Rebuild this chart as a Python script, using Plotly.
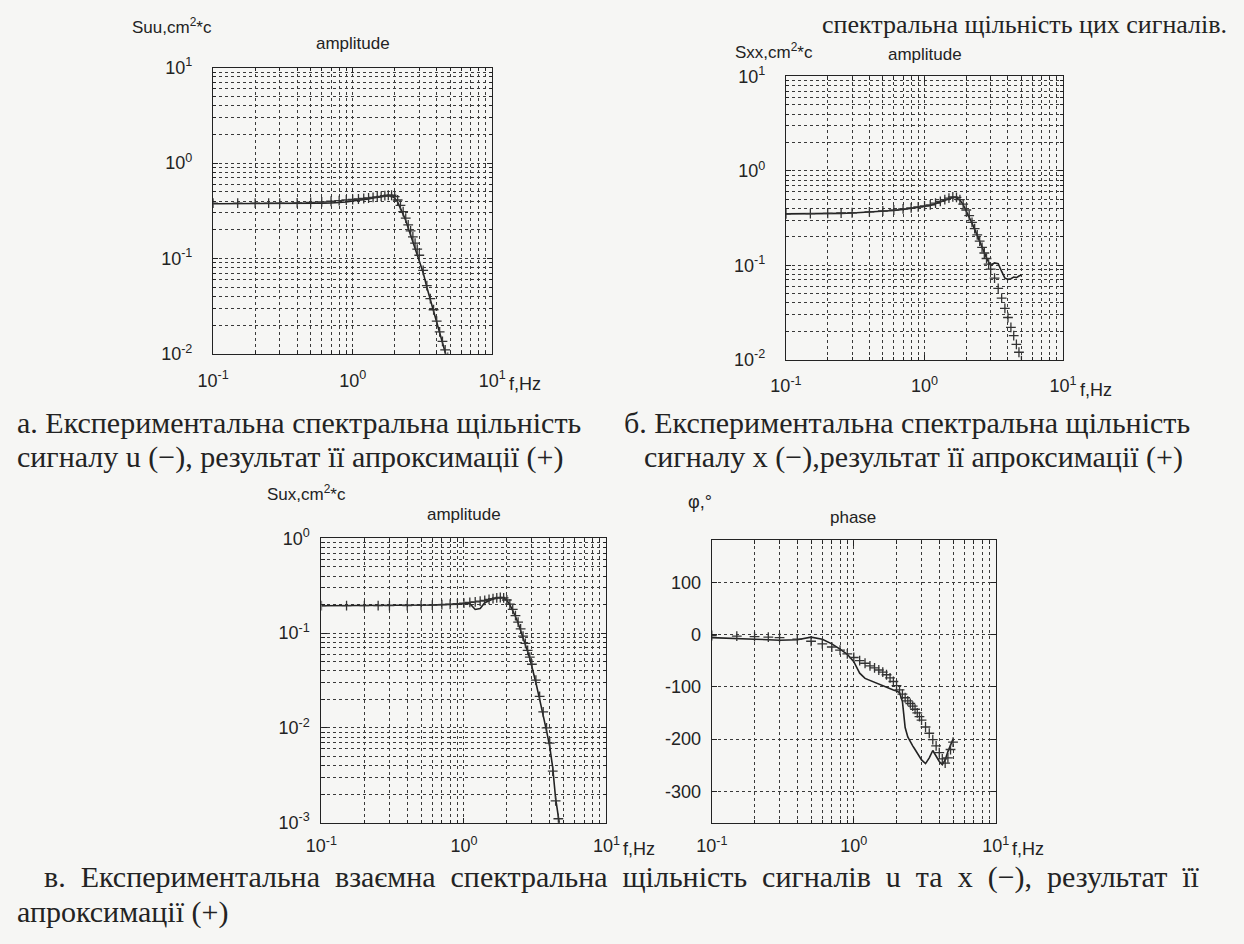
import plotly.graph_objects as go

W, H = 1244, 944

# ---------------- data ----------------
freq = [0.1, 0.15, 0.2, 0.25, 0.3, 0.4, 0.5, 0.6, 0.7, 0.8, 0.9, 1.0,
        1.1, 1.2, 1.3, 1.4, 1.5, 1.6, 1.7, 1.8, 1.9, 2.0,
        2.1, 2.2, 2.3, 2.4, 2.5, 2.6, 2.7, 2.8, 2.9, 3.0,
        3.2, 3.4, 3.6, 3.8, 4.0, 4.2, 4.4, 4.6, 4.8, 5.0]

# a. Suu
suu_exp = [0.375, 0.375, 0.375, 0.376, 0.376, 0.377, 0.378, 0.380, 0.382, 0.385, 0.390, 0.400,
           0.405, 0.410, 0.420, 0.430, 0.435, 0.440, 0.450, 0.455, 0.450, 0.430,
           0.390, 0.340, 0.290, 0.250, 0.210, 0.180, 0.155, 0.130, 0.112, 0.097,
           0.071, 0.050, 0.037, 0.028, 0.021, 0.016, 0.0128, 0.0104, 0.0087, 0.0074]
suu_fit = [0.380, 0.380, 0.380, 0.380, 0.381, 0.383, 0.387, 0.392, 0.398, 0.404, 0.410, 0.415,
           0.420, 0.425, 0.430, 0.436, 0.442, 0.448, 0.455, 0.460, 0.460, 0.445,
           0.410, 0.360, 0.310, 0.265, 0.225, 0.195, 0.168, 0.145, 0.125, 0.108,
           0.075, 0.052, 0.038, 0.029, 0.022, 0.017, 0.0135, 0.011, 0.0092, 0.0078]

# b. Sxx
sxx_exp = [0.350, 0.350, 0.352, 0.355, 0.358, 0.365, 0.372, 0.380, 0.390, 0.400, 0.410, 0.420,
           0.430, 0.450, 0.470, 0.490, 0.510, 0.525, 0.520, 0.490, 0.440, 0.380,
           0.330, 0.280, 0.240, 0.205, 0.178, 0.155, 0.135, 0.120, 0.108, 0.100,
           0.106, 0.104, 0.086, 0.073, 0.071, 0.072, 0.075, 0.074, 0.077, 0.079]
sxx_fit = [0.350, 0.352, 0.355, 0.358, 0.360, 0.368, 0.376, 0.385, 0.395, 0.405, 0.415, 0.425,
           0.437, 0.455, 0.475, 0.495, 0.515, 0.530, 0.525, 0.495, 0.445, 0.385,
           0.335, 0.285, 0.245, 0.210, 0.180, 0.155, 0.135, 0.118, 0.103, 0.091,
           0.073, 0.057, 0.045, 0.035, 0.028, 0.022, 0.018, 0.0145, 0.012, 0.0098]

# c. Sux
sux_exp = [0.195, 0.195, 0.195, 0.195, 0.195, 0.196, 0.197, 0.198, 0.200, 0.200, 0.202, 0.205,
           0.205, 0.178, 0.182, 0.210, 0.222, 0.230, 0.235, 0.238, 0.236, 0.222,
           0.200, 0.175, 0.150, 0.128, 0.108, 0.090, 0.076, 0.064, 0.054, 0.045,
           0.030, 0.020, 0.0138, 0.0093, 0.0064, 0.0038, 0.0018, 0.0012, 0.0008, 0.0005]
sux_fit = [0.195, 0.195, 0.195, 0.195, 0.195, 0.196, 0.197, 0.198, 0.200, 0.202, 0.205, 0.208,
           0.211, 0.214, 0.218, 0.222, 0.227, 0.232, 0.236, 0.238, 0.236, 0.224,
           0.203, 0.178, 0.153, 0.131, 0.111, 0.093, 0.078, 0.066, 0.056, 0.047,
           0.032, 0.0215, 0.0148, 0.0100, 0.0069, 0.0035, 0.0017, 0.0011, 0.0008, 0.0006]

# d. phase, degrees
phase_exp = [-6, -7, -9, -10, -11, -10, -5, -9, -18, -28, -38, -52,
             -74, -84, -88, -92, -95, -98, -101, -103, -106, -108,
             -111, -128, -178, -196, -206, -213, -220, -227, -234, -240,
             -247, -236, -222, -232, -243, -249, -240, -224, -210, -200]
phase_fit = [-2, -3, -4, -5, -6, -9, -13, -18, -24, -30, -37, -44,
             -50, -55, -60, -64, -68, -72, -77, -83, -90, -98,
             -106, -114, -121, -127, -132, -137, -143, -150, -157, -164,
             -177, -189, -201, -213, -226, -238, -246, -236, -220, -206]

x_tickvals = [0.1, 1, 10]
x_ticktext = ["10<sup>-1</sup>", "10<sup>0</sup>", "10<sup>1</sup>"]
ab_tickvals = [0.01, 0.1, 1, 10]
ab_ticktext = ["10<sup>-2</sup>", "10<sup>-1</sup>", "10<sup>0</sup>", "10<sup>1</sup>"]
c_tickvals = [0.001, 0.01, 0.1, 1]
c_ticktext = ["10<sup>-3</sup>", "10<sup>-2</sup>", "10<sup>-1</sup>", "10<sup>0</sup>"]
ph_tickvals = [-300, -200, -100, 0, 100]
ph_ticktext = ["-300", "-200", "-100", "0", "100"]

# ---------------- styling ----------------
INK = "#232323"
GRID = "#3a3a3a"
DASH = "3px,3px"
SANS = "Liberation Sans, Arial, sans-serif"
SERIF = "Liberation Serif, Times New Roman, serif"
BG = "#f6f6f4"
TICK_FS = 18
CAP_FS = 30


def minor_log(lo, hi):
    return [m * 10 ** e for e in range(lo, hi) for m in range(2, 10)]


def dom_x(x0, x1):
    return [x0 / W, x1 / W]


def dom_y(y0, y1):
    return [1 - y1 / H, 1 - y0 / H]


panels = [
    dict(box=(202, 57, 488, 350), y=(suu_exp, suu_fit), ylog=True, yrange=[-2, 1],
         tv=ab_tickvals, tt=ab_ticktext, minor=minor_log(-2, 1), ystand=16, xstand=10),
    dict(box=(789, 66, 1073, 356), y=(sxx_exp, sxx_fit), ylog=True, yrange=[-2, 1],
         tv=ab_tickvals, tt=ab_ticktext, minor=minor_log(-2, 1), ystand=16, xstand=10),
    dict(box=(313, 539, 605, 830), y=(sux_exp, sux_fit), ylog=True, yrange=[-3, 0],
         tv=c_tickvals, tt=c_ticktext, minor=minor_log(-3, 0), ystand=7, xstand=7),
    dict(box=(713, 541, 1004, 830), y=(phase_exp, phase_fit), ylog=False, yrange=[-360, 180],
         tv=ph_tickvals, tt=ph_ticktext, minor=None, ystand=6, xstand=7),
]

fig = go.Figure()
layout = {}
for i, p in enumerate(panels, start=1):
    xa = "x" if i == 1 else f"x{i}"
    ya = "y" if i == 1 else f"y{i}"
    exp_v, fit_v = p["y"]
    fig.add_trace(go.Scatter(x=freq, y=exp_v, mode="lines", xaxis=xa, yaxis=ya,
                             line=dict(color=INK, width=1.6), showlegend=False))
    fig.add_trace(go.Scatter(x=freq, y=fit_v, mode="markers", xaxis=xa, yaxis=ya,
                             marker=dict(symbol="cross-thin", size=7, color=INK,
                                         line=dict(width=1.3, color="#333333")),
                             showlegend=False))
    x0, y0, x1, y1 = p["box"]
    common = dict(showline=True, linecolor=INK, linewidth=1.3, mirror="ticks",
                  ticks="inside", ticklen=5, tickcolor=INK,
                  showgrid=True, gridcolor=GRID, gridwidth=1, griddash=DASH,
                  zeroline=False, tickfont=dict(family=SANS, size=TICK_FS, color=INK))
    layout["xaxis" if i == 1 else f"xaxis{i}"] = dict(
        type="log", range=[-1, 1], domain=dom_x(x0, x1),
        anchor=ya, tickmode="array", tickvals=x_tickvals, ticktext=x_ticktext,
        ticklabelstandoff=p["xstand"],
        minor=dict(tickvals=minor_log(-1, 1), showgrid=True, gridcolor=GRID, gridwidth=1,
                   griddash=DASH, ticks="inside", ticklen=3, tickcolor=INK),
        **common)
    yax = dict(domain=dom_y(y0, y1), anchor=xa, range=p["yrange"],
               tickmode="array", tickvals=p["tv"], ticktext=p["tt"],
               ticklabelstandoff=p["ystand"], **common)
    if p["ylog"]:
        yax["type"] = "log"
        yax["minor"] = dict(tickvals=p["minor"], showgrid=True, gridcolor=GRID, gridwidth=1,
                            griddash=DASH, ticks="inside", ticklen=3, tickcolor=INK)
    else:
        yax["type"] = "linear"
    layout["yaxis" if i == 1 else f"yaxis{i}"] = yax

ann = []


def add_text(text, x, y, size, family=SANS, xanchor="center", yanchor="middle"):
    ann.append(dict(text=text, x=x / W, y=1 - y / H, xref="paper", yref="paper",
                    showarrow=False, xanchor=xanchor, yanchor=yanchor, borderpad=0,
                    font=dict(family=family, size=size, color=INK)))


# panel labels
add_text("Suu,cm<sup>2</sup>*c", 118, 14, 17, xanchor="left")
add_text("amplitude", 345, 32, 17)
add_text("Sxx,cm<sup>2</sup>*c", 736, 40, 17, xanchor="left")
add_text("amplitude", 931, 44, 17)
add_text("Sux,cm<sup>2</sup>*c", 256, 492, 17, xanchor="left")
add_text("amplitude", 459, 515, 17)
add_text("φ,°", 688, 502, 18, xanchor="left")
add_text("phase", 858, 518, 17)
# f,Hz right after the last x tick label
for xr, yb, dy in [(488, 350, 31), (1073, 356, 31), (605, 830, 27), (1004, 830, 27)]:
    add_text("f,Hz", xr + 16, yb + dy, TICK_FS, xanchor="left")

# captions
SP = "\u2002"
add_text("спектральна щільність цих сигналів.", 1242, 13, 26, family=SERIF, xanchor="right")
add_text("а. Експериментальна спектральна щільність", 0, 420, CAP_FS, family=SERIF, xanchor="left")
add_text("сигналу u (−), результат її апроксимації (+)", 0, 456, CAP_FS, family=SERIF, xanchor="left")
add_text("б. Експериментальна спектральна щільність", 622, 420, CAP_FS, family=SERIF, xanchor="left")
add_text("сигналу x (−),результат її апроксимації (+)", 642, 456, CAP_FS, family=SERIF, xanchor="left")
add_text(SP.join("в. Експериментальна взаємна спектральна щільність сигналів u та x (−), результат її".split(" ")),
         28, 886, CAP_FS, family=SERIF, xanchor="left")
add_text("апроксимації (+)", 0, 921, CAP_FS, family=SERIF, xanchor="left")

fig.update_layout(width=W, height=H, autosize=False,
                  margin=dict(l=0, r=0, t=0, b=0),
                  paper_bgcolor=BG, plot_bgcolor=BG,
                  annotations=ann, showlegend=False, **layout)

fig.write_html("out.html")
